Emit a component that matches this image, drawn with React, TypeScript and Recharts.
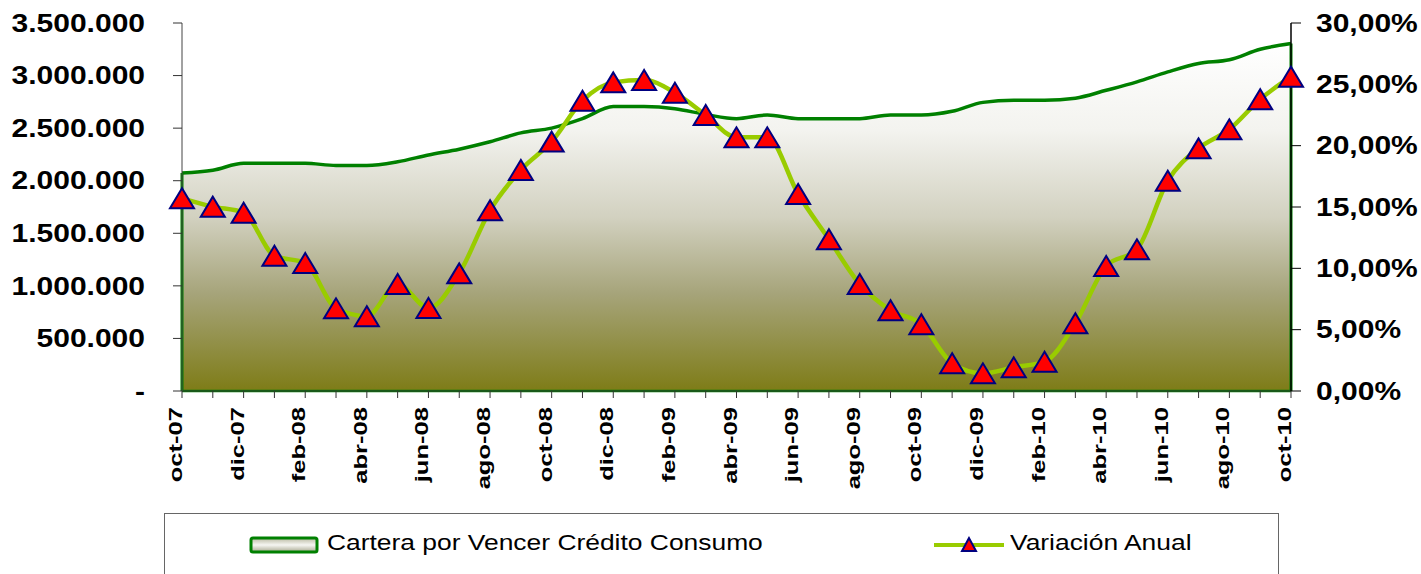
import React from 'react';
import { ComposedChart, Area, Line, XAxis, YAxis, ReferenceLine } from 'recharts';

const months = [
  'oct-07', 'nov-07', 'dic-07', 'ene-08', 'feb-08', 'mar-08', 'abr-08', 'may-08', 'jun-08', 'jul-08',
  'ago-08', 'sep-08', 'oct-08', 'nov-08', 'dic-08', 'ene-09', 'feb-09', 'mar-09', 'abr-09', 'may-09',
  'jun-09', 'jul-09', 'ago-09', 'sep-09', 'oct-09', 'nov-09', 'dic-09', 'ene-10', 'feb-10', 'mar-10',
  'abr-10', 'may-10', 'jun-10', 'jul-10', 'ago-10', 'sep-10', 'oct-10',
];

const cartera = [
  2074000, 2100000, 2166000, 2166000, 2166000, 2145000, 2145000, 2180000, 2245000, 2300000,
  2370000, 2455000, 2500000, 2590000, 2705000, 2705000, 2685000, 2630000, 2590000, 2625000,
  2590000, 2590000, 2590000, 2625000, 2625000, 2660000, 2745000, 2765000, 2765000, 2785000,
  2860000, 2940000, 3035000, 3115000, 3150000, 3250000, 3305000,
];

const variacion = [
  15.71, 15.03, 14.54, 11.03, 10.43, 6.74, 6.09, 8.72, 6.77, 9.59,
  14.73, 18.02, 20.33, 23.67, 25.16, 25.35, 24.32, 22.5, 20.68, 20.68,
  16.06, 12.37, 8.72, 6.58, 5.44, 2.26, 1.44, 1.93, 2.39, 5.52,
  10.19, 11.55, 17.14, 19.78, 21.33, 23.78, 25.62,
];

const leftTicks = [0, 500000, 1000000, 1500000, 2000000, 2500000, 3000000, 3500000];
const rightTicks = [0, 5, 10, 15, 20, 25, 30];

const data = months.map((m, i) => ({ mes: m, cartera: cartera[i], variacion: variacion[i] }));

const FONT = '"Liberation Sans", Arial, sans-serif';

const fmtMiles = (v: number) => (v === 0 ? '-' : String(v).replace(/\B(?=(\d{3})+(?!\d))/g, '.'));
const fmtPct = (v: number) => v.toFixed(2).replace('.', ',') + '%';

const LeftTick = (props: any) => {
  const { x, y, payload } = props;
  return (
    <text
      transform={`translate(${x},${y}) scale(1.2,1)`}
      textAnchor="end"
      dy="0.35em"
      fontFamily={FONT}
      fontWeight="bold"
      fontSize={25}
      fill="#000"
    >
      {fmtMiles(payload.value)}
    </text>
  );
};

const RightTick = (props: any) => {
  const { x, y, payload } = props;
  return (
    <text
      transform={`translate(${x},${y}) scale(1.2,1)`}
      textAnchor="start"
      dy="0.35em"
      fontFamily={FONT}
      fontWeight="bold"
      fontSize={25}
      fill="#000"
    >
      {fmtPct(payload.value)}
    </text>
  );
};

// only every second month gets a label, but every month keeps its tick line
const MonthTick = (props: any) => {
  const { x, y, payload, index } = props;
  if (index % 2 !== 0) return <g />;
  return (
    <text
      transform={`translate(${x},${y}) rotate(-90) scale(1.42,1)`}
      textAnchor="end"
      fontFamily={FONT}
      fontWeight="bold"
      fontSize={18}
      fill="#000"
    >
      {payload.value}
    </text>
  );
};

const Triangle = (props: any) => {
  const { cx, cy, index } = props;
  if (cx == null || cy == null) return <g key={`t-${index}`} />;
  return (
    <polygon
      key={`t-${index}`}
      points={`${cx},${cy - 10} ${cx - 12},${cy + 10} ${cx + 12},${cy + 10}`}
      fill="#ff0000"
      stroke="#000080"
      strokeWidth={2}
      strokeLinejoin="miter"
    />
  );
};

const ChartLegend = () => (
  <div
    style={{
      position: 'absolute',
      left: 164,
      top: 513,
      width: 1115,
      height: 90,
      border: '1.5px solid #666',
      boxSizing: 'border-box',
      background: '#fff',
      fontFamily: FONT,
      fontSize: 22,
      color: '#000',
    }}
  >
    <svg width={72} height={20} style={{ position: 'absolute', left: 84, top: 22 }}>
      <defs>
        <linearGradient id="swatch" x1="0" y1="0" x2="0" y2="1">
          <stop offset="0%" stopColor="#b8b8a0" />
          <stop offset="50%" stopColor="#f6f6f2" />
          <stop offset="100%" stopColor="#a8a890" />
        </linearGradient>
      </defs>
      <rect x={2} y={2} width={66} height={14} rx={2} fill="url(#swatch)" stroke="#008000" strokeWidth={3} />
    </svg>
    <span
      style={{
        position: 'absolute',
        left: 162,
        top: 16,
        whiteSpace: 'nowrap',
        transform: 'scaleX(1.2)',
        transformOrigin: 'left center',
        lineHeight: '26px',
      }}
    >
      Cartera por Vencer Crédito Consumo
    </span>
    <svg width={72} height={24} style={{ position: 'absolute', left: 768, top: 19 }}>
      <line x1={1} y1={12} x2={71} y2={12} stroke="#99cc00" strokeWidth={4} />
      <polygon points="36,5 29,18 43,18" fill="#ff0000" stroke="#000080" strokeWidth={2} />
    </svg>
    <span
      style={{
        position: 'absolute',
        left: 845,
        top: 16,
        whiteSpace: 'nowrap',
        transform: 'scaleX(1.2)',
        transformOrigin: 'left center',
        lineHeight: '26px',
      }}
    >
      Variación Anual
    </span>
  </div>
);

export default function App() {
  return (
    <div
      style={{
        position: 'absolute',
        left: 0,
        top: 0,
        width: 1421,
        height: 574,
        overflow: 'hidden',
        background: '#fff',
      }}
    >
      <ComposedChart width={1421} height={574} data={data} margin={{ top: 23, right: 0, bottom: 0, left: 0 }}>
        <defs>
          <linearGradient id="fillCartera" x1="0" y1="0" x2="0" y2="1">
            <stop offset="0%" stopColor="#ffffff" />
            <stop offset="25%" stopColor="#f3f3ef" />
            <stop offset="50%" stopColor="#d2d1c0" />
            <stop offset="72%" stopColor="#a6a47a" />
            <stop offset="100%" stopColor="#7e7c17" />
          </linearGradient>
        </defs>
        <XAxis
          dataKey="mes"
          scale="point"
          padding={{ left: 0, right: 0 }}
          interval={0}
          height={183}
          tick={<MonthTick />}
          tickSize={7}
          tickMargin={9}
          axisLine={{ stroke: '#333', strokeWidth: 1 }}
          tickLine={{ stroke: '#333', strokeWidth: 1 }}
        />
        <YAxis
          yAxisId="left"
          orientation="left"
          width={182}
          domain={[0, 3500000]}
          ticks={leftTicks}
          interval={0}
          tick={<LeftTick />}
          tickSize={9}
          tickMargin={28}
          axisLine={{ stroke: '#444', strokeWidth: 1 }}
          tickLine={{ stroke: '#333', strokeWidth: 1 }}
        />
        <YAxis
          yAxisId="right"
          orientation="right"
          width={130}
          domain={[0, 30]}
          ticks={rightTicks}
          interval={0}
          tick={<RightTick />}
          tickSize={10}
          tickMargin={15}
          axisLine={{ stroke: '#000', strokeWidth: 1.5 }}
          tickLine={{ stroke: '#000', strokeWidth: 1 }}
        />
        <Area
          yAxisId="left"
          type="monotone"
          dataKey="cartera"
          stroke="#008000"
          strokeWidth={3.5}
          fill="url(#fillCartera)"
          fillOpacity={1}
          isAnimationActive={false}
        />
        <ReferenceLine
          yAxisId="left"
          segment={[{ x: months[0], y: 0 }, { x: months[0], y: cartera[0] }]}
          stroke="#008000"
          strokeWidth={3}
        />
        <ReferenceLine
          yAxisId="left"
          segment={[{ x: months[months.length - 1], y: 0 }, { x: months[months.length - 1], y: cartera[cartera.length - 1] }]}
          stroke="#008000"
          strokeWidth={3}
        />
        <ReferenceLine yAxisId="left" y={0} stroke="#008000" strokeWidth={2.5} />
        <Line
          yAxisId="right"
          type="monotone"
          dataKey="variacion"
          stroke="#99cc00"
          strokeWidth={4.5}
          dot={(p: any) => <Triangle key={`tri-${p.index}`} {...p} />}
          activeDot={false}
          isAnimationActive={false}
        />
      </ComposedChart>
      <ChartLegend />
    </div>
  );
}
